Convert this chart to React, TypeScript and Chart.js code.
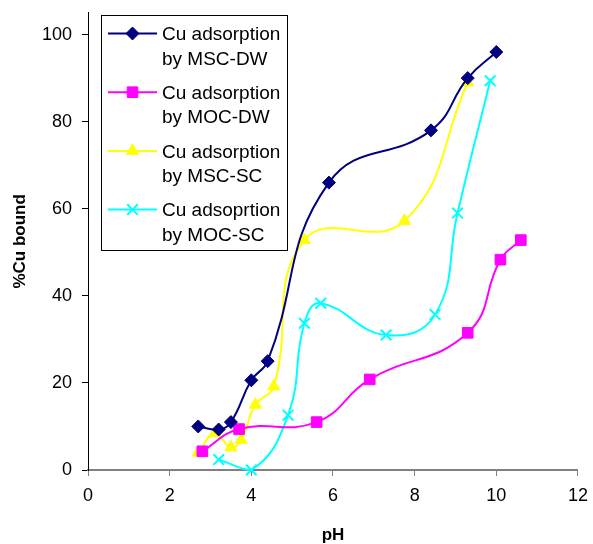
import React, { useEffect, useRef } from "react";
import { Chart, registerables } from "chart.js";
import { drawPoint } from "chart.js/helpers";

Chart.register(...registerables);

// ---- data ----
const legendLines: string[][] = [
  ["Cu adsorption", "by MSC-DW"],
  ["Cu adsorption", "by MOC-DW"],
  ["Cu adsorption", "by MSC-SC"],
  ["Cu adsoprtion", "by MOC-SC"],
];

const mscDwPH = [2.7, 3.2, 3.5, 4.0, 4.4, 5.9, 8.4, 9.3, 10.0];
const mscDwBound = [10, 9.3, 11, 20.6, 25, 66, 78, 90, 96];

const mocDwPH = [2.8, 3.7, 5.6, 6.9, 9.3, 10.1, 10.6];
const mocDwBound = [4.3, 9.4, 11, 20.8, 31.5, 48.3, 52.8];

const mscScPH = [2.7, 3.1, 3.5, 3.75, 4.1, 4.55, 5.3, 7.75, 9.3];
const mscScBound = [4, 8.4, 5.2, 6.9, 15, 19.2, 52.8, 57.2, 89];

const mocScPH = [3.2, 4.0, 4.9, 5.3, 5.7, 7.3, 8.5, 9.05, 9.85];
const mocScBound = [2.4, 0, 12.6, 33.7, 38.3, 31, 35.7, 59, 89.4];

const xTickValues = [0, 2, 4, 6, 8, 10, 12];
const yTickValues = [0, 20, 40, 60, 80, 100];

const toPoints = (xs: number[], ys: number[]) => xs.map((x, i) => ({ x, y: ys[i] }));

const FONT = "'Liberation Sans', Arial, sans-serif";
const SHIFT_Y = 8; // canvas is placed 8px above the page top

const boxLegend = {
  id: "boxLegend",
  afterDraw(chart: any) {
    const ctx = chart.ctx as CanvasRenderingContext2D;
    ctx.save();
    ctx.translate(0, SHIFT_Y);
    ctx.fillStyle = "#ffffff";
    ctx.fillRect(101.5, 15.5, 186, 235);
    ctx.strokeStyle = "#000000";
    ctx.lineWidth = 1;
    ctx.strokeRect(101.5, 15.5, 186, 235);
    chart.data.datasets.forEach((ds: any, i: number) => {
      const y = 33.5 + i * 58.7;
      ctx.strokeStyle = ds.borderColor;
      ctx.lineWidth = 2;
      ctx.beginPath();
      ctx.moveTo(108, y);
      ctx.lineTo(157, y);
      ctx.stroke();
      ctx.fillStyle = ds.pointBackgroundColor;
      ctx.strokeStyle = ds.pointBorderColor;
      ctx.lineWidth = ds.pointBorderWidth;
      drawPoint(ctx, { pointStyle: ds.pointStyle, radius: ds.pointRadius, borderWidth: ds.pointBorderWidth, rotation: 0 } as any, 132.5, y);
      ctx.fillStyle = "#000000";
      ctx.font = `19px ${FONT}`;
      ctx.textBaseline = "middle";
      ctx.textAlign = "left";
      const lines = legendLines[i];
      lines.forEach((t, j) => ctx.fillText(t, 162, y + 1.5 + j * 24.5));
    });
    ctx.restore();
  },
};

function makeDataset(xs: number[], ys: number[], color: string, style: string, radius: number, bw: number) {
  return {
    data: toPoints(xs, ys),
    showLine: true,
    borderColor: color,
    backgroundColor: color,
    borderWidth: 2,
    tension: 0.45,
    pointStyle: style,
    pointRadius: radius,
    pointHoverRadius: radius,
    pointBackgroundColor: color,
    pointBorderColor: color,
    pointBorderWidth: bw,
    clip: false,
  };
}

export default function App() {
  const ref = useRef<HTMLCanvasElement | null>(null);
  useEffect(() => {
    if (!ref.current) return;
    const chart = new Chart(ref.current, {
      type: "scatter",
      data: {
        datasets: [
          makeDataset(mscDwPH, mscDwBound, "#000080", "rectRot", 6.5, 1),
          makeDataset(mocDwPH, mocDwBound, "#FF00FF", "rect", 7.5, 1),
          makeDataset(mscScPH, mscScBound, "#FFFF00", "triangle", 7, 1),
          makeDataset(mocScPH, mocScBound, "#00FFFF", "crossRot", 7.5, 2),
        ] as any,
      },
      options: {
        animation: false,
        responsive: true,
        maintainAspectRatio: false,
        layout: { padding: { top: 4, right: 4, left: 0, bottom: 0 } },
        plugins: { legend: { display: false }, tooltip: { enabled: false } },
        scales: {
          x: {
            type: "linear",
            min: 0,
            max: 12,
            afterBuildTicks: (s: any) => {
              s.ticks = xTickValues.map((v) => ({ value: v }));
            },
            afterFit: (s: any) => {
              s.height = 74;
            },
            grid: { drawOnChartArea: false, drawTicks: true, tickLength: 6, tickColor: "#808080", tickWidth: 1 },
            border: { display: true, color: "#808080", width: 2 },
            ticks: { color: "#000", padding: 9, font: { family: FONT, size: 18 }, maxRotation: 0 },
            title: {
              display: true,
              text: "pH",
              color: "#000",
              font: { family: FONT, size: 17, weight: "bold", lineHeight: 1 },
              padding: { top: 0, bottom: 0 },
            },
          },
          y: {
            type: "linear",
            min: 0,
            max: 105,
            afterBuildTicks: (s: any) => {
              s.ticks = yTickValues.map((v) => ({ value: v }));
            },
            afterFit: (s: any) => {
              s.width = 88;
            },
            grid: { drawOnChartArea: false, drawTicks: true, tickLength: 6, tickColor: "#000", tickWidth: 1 },
            border: { display: true, color: "#000", width: 1 },
            ticks: { color: "#000", padding: 10, font: { family: FONT, size: 18 } },
            title: {
              display: true,
              text: "%Cu bound",
              color: "#000",
              font: { family: FONT, size: 17, weight: "bold", lineHeight: 1 },
              padding: { top: 12, bottom: 0 },
            },
          },
        },
      } as any,
      plugins: [boxLegend],
    });
    return () => chart.destroy();
  }, []);
  return (
    <div style={{ position: "absolute", left: 0, top: 0, width: 593, height: 544, overflow: "hidden", background: "#fff" }}>
      <div style={{ position: "absolute", left: 0, top: -SHIFT_Y, width: 597, height: 544 + SHIFT_Y }}>
        <canvas ref={ref} />
      </div>
    </div>
  );
}
